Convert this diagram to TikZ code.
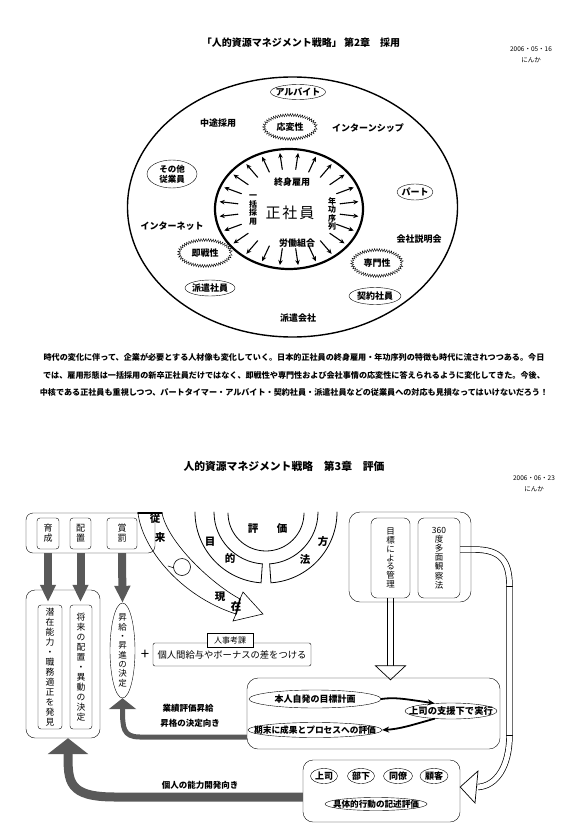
\documentclass[tikz,border=0pt]{standalone}
\usepackage{fontspec}
\setmainfont{Noto Sans CJK JP}
\usetikzlibrary{arrows.meta,shapes.geometric,decorations.pathmorphing,backgrounds,calc}
\newcommand\jfs[2]{\fontsize{#1}{#2}\selectfont}
\newcommand\midtext[1]{\makebox[0pt]{#1}}

\begin{document}
\begin{tikzpicture}[x=1pt,y=-1pt,line cap=round,font=\bfseries\jfs{9}{10},
  oval/.style 2 args={draw,ellipse,inner sep=0pt,minimum width=#1pt,minimum height=#2pt},
  burst/.style 2 args={draw,ellipse,inner sep=0pt,minimum width=#1pt,minimum height=#2pt,
    decorate,decoration={zigzag,segment length=2.4pt,amplitude=1.4pt}},
  vbox/.style 2 args={draw,rounded corners=3pt,inner sep=0pt,align=center,minimum width=#1pt,minimum height=#2pt,font=\jfs{9}{10}},
  panel/.style 2 args={draw,rounded corners=9pt,minimum width=#1pt,minimum height=#2pt},
  spoke/.style={line width=1.1pt,-{Stealth[length=5pt,width=4.5pt]}},
  grayarr/.style={draw=black!65,line width=#1,line cap=butt},
  pipe/.style={double=white,double distance=5pt,line width=0.7pt,line cap=butt},
  hollow/.style={draw,fill=white,line width=0.7pt,line join=miter},
  blackarr/.style={line width=1.8pt,-{Stealth[length=7pt,width=6pt]}}]
\useasboundingbox (0,0) rectangle (588,829);

% --- 第2章 採用 ---
\node[font=\bfseries\jfs{10}{12}] (title1) at (301,43) {「人的資源マネジメント戦略」 第2章　採用};
\node[font=\jfs{6.5}{11.5},align=center] (date1) at (531,55) {2006・05・16\\にんか};

\draw[line width=1.4pt] (292.5,207) ellipse [x radius=165pt,y radius=130pt];
\coordinate (core) at (289,209);
\draw[line width=2.2pt] (core) ellipse [x radius=74pt,y radius=60pt];
\foreach \a in {7.5,22.5,...,352.5}
  \draw[spoke] ($(core)+({51.5*cos(\a)},{40*sin(\a)})$) -- ($(core)+({70*cos(\a)},{56.5*sin(\a)})$);

\node[font=\jfs{15}{15}] (seishain) at (290,213) {正\hspace{2pt}社\hspace{2pt}員};
\node (shushin) at (292,182) {終身雇用};
\node (roudou) at (297,243) {労働組合};
\node[align=center,font=\bfseries\jfs{8}{8.5}] (ikkatsu) at (253,210) {一\\括\\採\\用};
\node[align=center,font=\bfseries\jfs{8}{8.5}] (nenko) at (332,214) {年\\功\\序\\列};

\node[oval={55}{15}] (arubaito) at (298,92) {\midtext{アルバイト}};
\node[burst={52}{24}] (ouhen) at (290,127) {\midtext{応変性}};
\node (chuto) at (218,123) {中途採用};
\node (intern) at (368,128) {インターンシップ};
\node[oval={50}{28},align=center,font=\bfseries\jfs{8.5}{10}] (sonota) at (172,174) {\midtext{その他}\\\midtext{従業員}};
\node[oval={36}{16}] (paato) at (415,192) {\midtext{パート}};
\node (internet) at (172,226) {インターネット};
\node (setsumei) at (419,239) {会社説明会};
\node[burst={52}{26}] (sokusen) at (205,253) {\midtext{即戦性}};
\node[burst={50}{26}] (senmon) at (377,263) {\midtext{専門性}};
\node[oval={50}{16}] (haken) at (210,288) {\midtext{派遣社員}};
\node[oval={52}{17}] (keiyaku) at (375,296) {\midtext{契約社員}};
\node (hakengaisha) at (298,318) {派遣会社};

\node[font=\bfseries\jfs{8.1}{17.5},align=center] (memo) at (294,375) {時代の変化に伴って、企業が必要とする人材像も変化していく。日本的正社員の終身雇用・年功序列の特徴も時代に流されつつある。今日\\では、雇用形態は一括採用の新卒正社員だけではなく、即戦性や専門性および会社事情の応変性に答えられるように変化してきた。今後、\\中核である正社員も重視しつつ、パートタイマー・アルバイト・契約社員・派遣社員などの従業員への対応も見損なってはいけないだろう！};

% --- 第3章 評価 ---
\node[font=\bfseries\jfs{10.8}{12}] (title2) at (284,466) {人的資源マネジメント戦略　第3章　評価};
\node[font=\jfs{6.5}{11.5},align=center] (date2) at (534,484) {2006・06・23\\にんか};

\node[panel={129}{40},rounded corners=7pt] (kanri) at (90.5,533) {};
\node[vbox={22}{31}] (ikusei) at (48,533.5) {育\\成};
\node[vbox={21}{31}] (haichi) at (80.5,533.5) {配\\置};
\node[vbox={30}{31}] (shobatsu) at (122,533.5) {賞\\罰};

\node[panel={74}{148}] (kekka) at (63,664) {};
\node[vbox={24}{124},font=\jfs{8.8}{10}] (senzai) at (50,667) {潜\\在\\能\\力\\・\\職\\務\\適\\正\\を\\発\\見};
\node[vbox={22}{124},font=\jfs{8.8}{10}] (shorai) at (81,667) {将\\来\\の\\配\\置\\・\\異\\動\\の\\決\\定};
\node[draw,ellipse,inner xsep=0pt,inner ysep=-4pt,minimum width=25pt,minimum height=95pt,align=center,font=\jfs{8.5}{9.3}] (shokyu) at (122.5,650.5) {昇\\給\\・\\昇\\進\\の\\決\\定};

\draw[grayarr=8pt,-{Triangle[length=17pt,width=15pt]}] ($(ikusei.south)+(0,4)$) -- ($(ikusei.south |- senzai.north)+(0,-3)$);
\draw[grayarr=8pt,-{Triangle[length=17pt,width=15pt]}] ($(haichi.south)+(0,4)$) -- ($(haichi.south |- shorai.north)+(0,-3)$);
\draw[grayarr=8pt,-{Triangle[length=17pt,width=15pt]}] ($(shobatsu.south)+(0,4)$) -- (shokyu.north);

% 従来 -> 現在
\draw[line width=0.6pt,line join=miter] (162,513) .. controls (168,543) and (212,584) .. (240,599) -- (243,592) -- (263,614) -- (233,621) -- (236,614) .. controls (180,596) and (142,548) .. (138,513);
\draw[line width=1.6pt] (138,513) -- (162,513);
\draw[line width=1.6pt] (240,599) -- (236,614);
\draw[line width=0.6pt] (182,567) circle (8.5pt);
\draw[line width=0.6pt] (168,566) -- (174,568);
\node[font=\bfseries\jfs{10.5}{11}] (jurai1) at (155,519) {従};
\node[font=\bfseries\jfs{10.5}{11}] (jurai2) at (160,537) {来};
\node[font=\bfseries\jfs{10.5}{11}] (genzai1) at (220,597) {現};
\node[font=\bfseries\jfs{10.5}{11}] (genzai2) at (236,606) {在};

% 評価・目的・方法
\draw[line width=0.8pt] (266,513) ++(180:38pt) arc[start angle=180,end angle=360,radius=38pt];
\draw[line width=0.8pt] (266,512) ++(180:71pt) arc[start angle=180,end angle=266,radius=71pt] -- ++(86:19pt) arc[start angle=266,end angle=180,radius=52pt];
\draw[line width=0.8pt] (266,512) ++(0:71pt) arc[start angle=0,end angle=-86,radius=71pt] -- ++(94:19pt) arc[start angle=-86,end angle=0,radius=52pt];
\node[font=\bfseries\jfs{10.5}{11}] (hyo) at (253,529) {評};
\node[font=\bfseries\jfs{10.5}{11}] (ka) at (282,529) {価};
\node[font=\bfseries\jfs{10.5}{11}] (moku) at (210,542) {目};
\node[font=\bfseries\jfs{10.5}{11}] (teki) at (230,558) {的};
\node[font=\bfseries\jfs{10.5}{11}] (ho) at (323,542) {方};
\node[font=\bfseries\jfs{10.5}{11}] (hou) at (305,560) {法};

% 評価方法
\node[panel={122}{90},rounded corners=11pt] (hyokaho) at (410,557) {};
\node[vbox={39}{80},rounded corners=6pt,font=\jfs{8.5}{8.8}] (mokuhyo) at (390.5,558) {目\\標\\に\\よ\\る\\管\\理};
\node[vbox={42}{80},rounded corners=6pt,font=\jfs{8.5}{9.2}] (tamen) at (439,558) {360\\度\\多\\面\\観\\察\\法};

\node[draw,rounded corners=2pt,minimum width=158pt,minimum height=23pt,font=\jfs{9.3}{10}] (kyuyo) at (232,654.5) {個人間給与やボーナスの差をつける};
\node[draw,fill=white,minimum width=46pt,minimum height=14pt,inner sep=1pt,font=\jfs{8}{9}] (kouka) at (230,640) {人事考課};
\node[font=\jfs{15}{15}] (plus) at (145,655) {+};

\node[panel={253}{71},rounded corners=11pt] (mbo) at (373.5,713.5) {};
\node[oval={132}{18}] (honnin) at (315,699) {\midtext{本人自発の目標計画}};
\node[oval={92}{16},font=\bfseries\jfs{9.3}{10}] (joshi) at (451,711) {\midtext{上司の支援下で実行}};
\node[oval={134}{15},font=\bfseries\jfs{8.7}{10}] (kimatsu) at (315,730) {\midtext{期末に成果とプロセスへの評価}};
\draw[blackarr] (honnin.east) .. controls (395,697) and (405,699) .. (joshi.155);
\draw[blackarr] (joshi.205) .. controls (412,725) and (400,729) .. (kimatsu.east);

\node[panel={157}{62},rounded corners=10pt] (kansatsu) at (381.5,791) {};
\node[oval={27}{15}] (joshi2) at (324,776) {\midtext{上司}};
\node[oval={27}{15}] (buka) at (361,776) {\midtext{部下}};
\node[oval={29}{15}] (doryo) at (398,776) {\midtext{同僚}};
\node[oval={28}{15}] (kokyaku) at (434,776) {\midtext{顧客}};
\node[oval={102}{13},font=\bfseries\jfs{8.6}{9}] (gutai) at (376,804) {\midtext{具体的行動の記述評価}};

\draw[grayarr=5pt,-{Triangle[length=11pt,width=27pt]}] ($(mbo.west)+(0,23.5)$) -- (140,737) .. controls (123,737) and (122.5,728) .. (shokyu.south);
\draw[grayarr=9pt,-{Triangle[length=16pt,width=40pt]}] ($(kansatsu.west)+(0,6)$) -- (115,797) .. controls (68,797) and (68,782) .. ($(kekka.south)+(5,0)$);
\node[font=\bfseries\jfs{8.5}{10}] (gyoseki1) at (188,708) {業績評価昇給};
\node[font=\bfseries\jfs{8.5}{10}] (gyoseki2) at (190,723) {昇格の決定向き};
\node[font=\bfseries\jfs{8.5}{10}] (nouryoku) at (200,785) {個人の能力開発向き};

\begin{scope}[on background layer]
\draw[pipe] (mokuhyo.south) -- ($(mokuhyo.south |- mbo.north)+(0,-11)$);
\draw[hollow] ($(mokuhyo.south |- mbo.north)+(-15,-12)$) -- ($(mokuhyo.south |- mbo.north)+(0,2)$) -- ($(mokuhyo.south |- mbo.north)+(15,-12)$) -- cycle;
\draw[pipe] ($(tamen.east)+(0,-8.5)$) -- (474,549.5) .. controls (500,549.5) and (509.5,560) .. (509.5,586) -- (509.5,735) .. controls (509.5,767) and (496,786) .. (478,787);
\draw[hollow] (478,771) -- ($(kansatsu.east)+(0,-4)$) -- (475,803) -- cycle;
\end{scope}
\draw[line width=0.7pt] (506.5,586) -- (512.5,586) (506.5,735) -- (512.5,735);
\end{tikzpicture}
\end{document}
